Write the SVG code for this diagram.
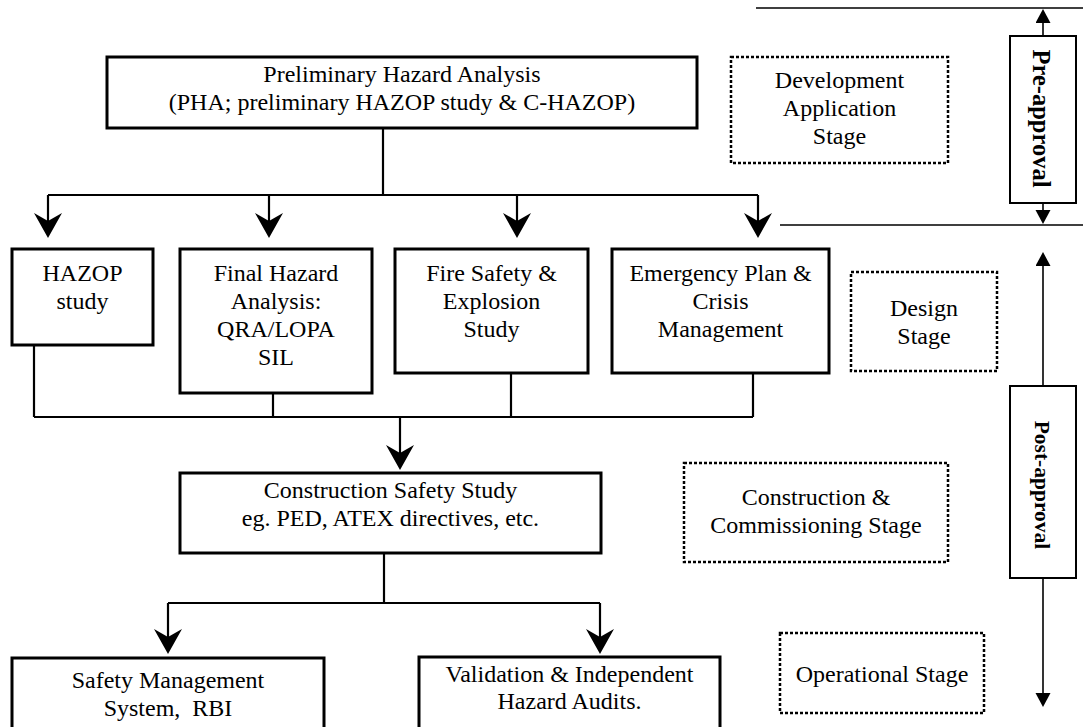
<svg xmlns="http://www.w3.org/2000/svg" width="1083" height="727" viewBox="0 0 1083 727">
<style>
.box{fill:#fff;stroke:#000;stroke-width:3}
.stage{fill:#fff;stroke:#000;stroke-width:2.5;stroke-dasharray:3 2}
.side{fill:#fff;stroke:#000;stroke-width:2}
.t{font-family:"Liberation Serif","Times New Roman",serif;font-size:24px;fill:#000;text-anchor:middle;white-space:pre}
.tb{font-family:"Liberation Serif","Times New Roman",serif;font-weight:bold;fill:#000;text-anchor:middle}
.c{fill:none;stroke:#000;stroke-width:2.2}
.r{fill:none;stroke:#000;stroke-width:1.6}
</style>
<defs>
<marker id="ah" markerUnits="userSpaceOnUse" markerWidth="26" markerHeight="29" refX="19" refY="14" orient="auto">
<path d="M25,14 L0,0 L8,14 L0,28 Z" fill="#000"/>
</marker>
<marker id="sa" markerUnits="userSpaceOnUse" markerWidth="15" markerHeight="16" refX="12" refY="7.5" orient="auto">
<path d="M14,7.5 L0,0 L0,15 Z" fill="#000"/>
</marker>
</defs>
<rect width="1083" height="727" fill="#fff"/>

<g id="connectors">
<path class="c" d="M383,128 V195"/>
<path class="c" d="M48,195 H758"/>
<path class="c" d="M48,195 V232" marker-end="url(#ah)"/>
<path class="c" d="M269,195 V232" marker-end="url(#ah)"/>
<path class="c" d="M517,195 V232" marker-end="url(#ah)"/>
<path class="c" d="M758,195 V232" marker-end="url(#ah)"/>
<path class="c" d="M34,345 V417 M273,393 V417 M511,373 V417 M753,373 V417"/>
<path class="c" d="M34,417 H753"/>
<path class="c" d="M400,417 V464" marker-end="url(#ah)"/>
<path class="c" d="M384,553 V603"/>
<path class="c" d="M168,603 H600"/>
<path class="c" d="M168,603 V648" marker-end="url(#ah)"/>
<path class="c" d="M600,603 V648" marker-end="url(#ah)"/>
<path class="r" d="M756,8 H1083 M780,225 H1083"/>
<path class="r" d="M1043,36 V11" marker-end="url(#sa)"/>
<path class="r" d="M1043,203 V222" marker-end="url(#sa)"/>
<path class="r" d="M1043,386 V254" marker-end="url(#sa)"/>
<path class="r" d="M1043,578 V705" marker-end="url(#sa)"/>
</g>

<g id="pha">
<rect class="box" x="107" y="57" width="590" height="71"/>
<text class="t" x="402" y="82">Preliminary Hazard Analysis</text>
<text class="t" x="402" y="110">(PHA; preliminary HAZOP study &amp; C-HAZOP)</text>
</g>

<g id="hazop">
<rect class="box" x="12" y="249" width="141" height="96"/>
<text class="t" x="82.5" y="281">HAZOP</text>
<text class="t" x="82.5" y="309">study</text>
</g>

<g id="final">
<rect class="box" x="180" y="249" width="192" height="144"/>
<text class="t" x="276" y="281">Final Hazard</text>
<text class="t" x="276" y="309">Analysis:</text>
<text class="t" x="276" y="337">QRA/LOPA</text>
<text class="t" x="276" y="365">SIL</text>
</g>

<g id="fire">
<rect class="box" x="395" y="249" width="193" height="124"/>
<text class="t" x="491.5" y="281">Fire Safety &amp;</text>
<text class="t" x="491.5" y="309">Explosion</text>
<text class="t" x="491.5" y="337">Study</text>
</g>

<g id="emergency">
<rect class="box" x="612" y="249" width="217" height="124"/>
<text class="t" x="720.5" y="281">Emergency Plan &amp;</text>
<text class="t" x="720.5" y="309">Crisis</text>
<text class="t" x="720.5" y="337">Management</text>
</g>

<g id="construction">
<rect class="box" x="180" y="473" width="421" height="80"/>
<text class="t" x="390.5" y="498">Construction Safety Study</text>
<text class="t" x="390.5" y="526">eg. PED, ATEX directives, etc.</text>
</g>

<g id="sms">
<rect class="box" x="12" y="658" width="312" height="90"/>
<text class="t" x="168" y="688">Safety Management</text>
<text class="t" x="168" y="716" xml:space="preserve">System,  RBI</text>
</g>

<g id="validation">
<rect class="box" x="419" y="657" width="301" height="90"/>
<text class="t" x="569.5" y="682">Validation &amp; Independent</text>
<text class="t" x="569.5" y="709">Hazard Audits.</text>
</g>

<g id="stage-development">
<rect class="stage" x="731" y="57" width="217" height="106"/>
<text class="t" x="839.5" y="88">Development</text>
<text class="t" x="839.5" y="116">Application</text>
<text class="t" x="839.5" y="144">Stage</text>
</g>

<g id="stage-design">
<rect class="stage" x="851" y="272" width="146" height="99"/>
<text class="t" x="924" y="316">Design</text>
<text class="t" x="924" y="344">Stage</text>
</g>

<g id="stage-construction">
<rect class="stage" x="684" y="463" width="264" height="99"/>
<text class="t" x="816" y="505">Construction &amp;</text>
<text class="t" x="816" y="533">Commissioning Stage</text>
</g>

<g id="stage-operational">
<rect class="stage" x="780" y="633" width="204" height="80"/>
<text class="t" x="882" y="682">Operational Stage</text>
</g>

<g id="pre-approval">
<rect class="side" x="1010" y="36" width="66" height="167"/>
<text class="tb" font-size="24.5" transform="translate(1041,118.5) rotate(90)" y="8">Pre-approval</text>
</g>

<g id="post-approval">
<rect class="side" x="1010" y="386" width="66" height="192"/>
<text class="tb" font-size="21.5" transform="translate(1042,485) rotate(90)" y="7.5">Post-approval</text>
</g>
</svg>
